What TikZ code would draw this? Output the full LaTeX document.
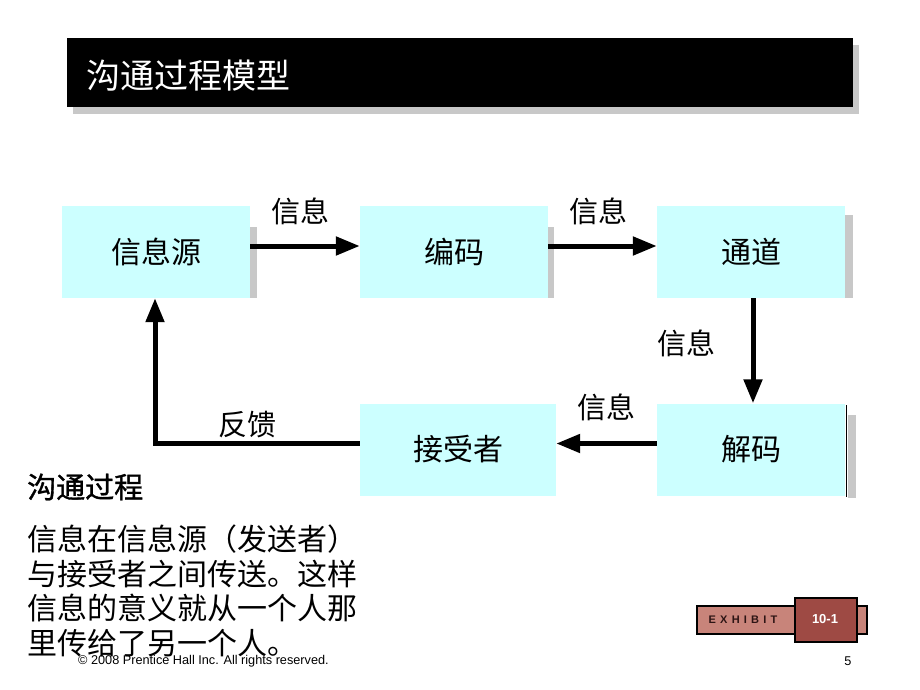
\documentclass[tikz,border=0pt]{standalone}
\usepackage{fontspec}
\setmainfont{Liberation Sans}
\newfontfamily\cjk{Noto Sans CJK SC}
\newfontfamily\cjkbold[FakeBold=1.2]{Noto Sans CJK SC}
\usetikzlibrary{arrows.meta}
\definecolor{boxcyan}{RGB}{204,255,255}
\definecolor{shadowgray}{RGB}{200,200,200}
\definecolor{exlight}{RGB}{200,132,122}
\definecolor{exdark}{RGB}{158,74,68}
\definecolor{extext}{RGB}{45,20,20}
\tikzset{
  procbox/.style={fill=boxcyan, draw=none, minimum width=188pt, minimum height=92pt, inner sep=0pt,
    font=\cjk\fontsize{30}{32}\selectfont},
  flow/.style={line width=5pt, -{Triangle[length=24pt,width=18pt]}},
  feedline/.style={line width=5pt},
  lbl/.style={font=\cjk\fontsize{29}{31}\selectfont, inner sep=0pt},
  sidestrip/.style={fill=shadowgray, draw=none},
}
\begin{document}
\begin{tikzpicture}[x=1pt,y=-1pt]
\useasboundingbox (0,0) rectangle (920,690);
\fill[white] (0,0) rectangle (920,690);

% title bar
\fill[shadowgray] (73,45) rectangle (859,114);
\node[fill=black, minimum width=786pt, minimum height=69pt, inner sep=0pt, anchor=north west] (bar) at (67,38) {};
\node[anchor=west, text=white, inner sep=0pt, font=\cjk\fontsize{34}{36}\selectfont] (title) at (86,76) {沟通过程模型};

% side strips (shadows)
\fill[sidestrip] (250,227) rectangle (257,298);
\fill[sidestrip] (548,227) rectangle (554,298);
\fill[sidestrip] (845,215) rectangle (853,298);
\fill[sidestrip] (848,415) rectangle (856,498);
\draw[line width=1pt] (846,405) -- (846,497);

% process boxes
\node[procbox] (src) at (156,252) {信息源};
\node[procbox] (enc) at (454,252) {编码};
\node[procbox] (chan) at (751,252) {通道};
\node[procbox] (dec) at (751,449.5) {解码};
\node[procbox, minimum width=196pt] (rcv) at (458,449.5) {接受者};

% connectors
\draw[flow] ([yshift=6pt]src.east) -- ([yshift=6pt]enc.west);
\draw[flow] ([yshift=6pt]enc.east) -- ([yshift=6pt]chan.west);
\draw[flow] ([xshift=2pt]chan.south) -- ([xshift=2pt]dec.north);
\draw[flow] ([yshift=6pt]dec.west) -- ([yshift=6pt]rcv.east);
\draw[flow] ([yshift=6pt]rcv.west) -| ([xshift=-1pt]src.south);

% connector labels
\node[lbl] (l1) at (300,211) {信息};
\node[lbl] (l2) at (598,211) {信息};
\node[lbl] (l3) at (686,343) {信息};
\node[lbl] (l4) at (606,407) {信息};
\node[lbl] (l5) at (247,425) {反馈};

% left text
\node[anchor=west, inner sep=0pt, font=\cjkbold\fontsize{29}{31}\selectfont] (head) at (27,487) {沟通过程};
\node[anchor=north west, inner sep=0pt, align=left, font=\cjk\fontsize{30}{34.5}\selectfont] (para) at (27,525)
  {信息在信息源（发送者）\\与接受者之间传送。这样\\信息的意义就从一个人那\\里传给了另一个人。};

% footer
\node[anchor=west, inner sep=0pt, font=\fontsize{12.7}{14}\selectfont] (copy) at (78,661) {© 2008 Prentice Hall Inc. All rights reserved.};
\node[inner sep=0pt, font=\fontsize{12.7}{14}\selectfont] (pg) at (848,661) {5};

% exhibit badge
\node[fill=exlight, draw=black, line width=2pt, minimum width=170pt, minimum height=28pt, inner sep=0pt, anchor=north west] (exbar) at (696,605) {};
\node[fill=exdark, draw=black, line width=2pt, minimum width=62pt, minimum height=44pt, inner sep=0pt, anchor=north west] (exnum) at (794,597) {};
\node[inner sep=0pt, text=extext, font=\bfseries\fontsize{11}{12}\selectfont] (extxt) at (743,619.5) {E\kern4.2pt X\kern4.2pt H\kern4.2pt I\kern4.2pt B\kern4.2pt I\kern4.2pt T};
\node[inner sep=0pt, text=white, font=\bfseries\fontsize{13}{14}\selectfont] (exlbl) at (825,619.5) {10-1};
\end{tikzpicture}
\end{document}
